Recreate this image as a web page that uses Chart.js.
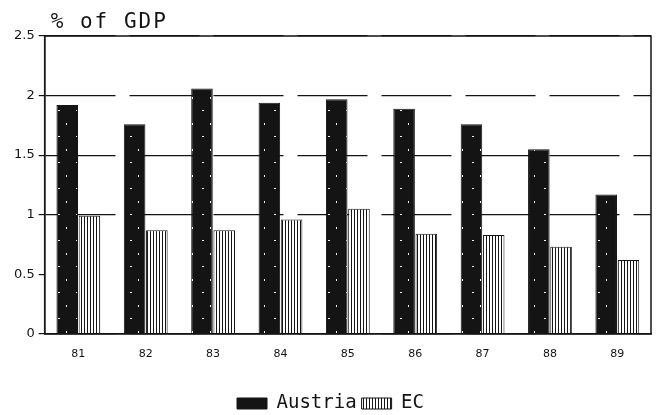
<!DOCTYPE html>
<html>
<head>
<meta charset="utf-8">
<script src="https://cdn.jsdelivr.net/npm/chart.js@4/dist/chart.umd.min.js"></script>
<style>
    html, body { margin: 0; padding: 0; background: #fff; }
    #wrap { width: 656px; height: 415px; }
</style>
</head>
<body>
<div id="wrap"><canvas id="gdpChart" width="656" height="415"></canvas></div>
<script>
const years = ["81", "82", "83", "84", "85", "86", "87", "88", "89"];
const austriaValues = [1.92, 1.76, 2.06, 1.94, 1.97, 1.89, 1.76, 1.55, 1.17];
const ecValues = [0.99, 0.87, 0.87, 0.96, 1.05, 0.84, 0.83, 0.73, 0.62];
const yTicks = [0, 0.5, 1, 1.5, 2, 2.5];

const ink = "#141414";

function makeSpeckle() {
    const c = document.createElement("canvas");
    c.width = 18;
    c.height = 26;
    const g = c.getContext("2d");
    g.fillStyle = ink;
    g.fillRect(0, 0, c.width, c.height);
    g.fillStyle = "#fff";
    g.fillRect(4, 6, 2, 1);
    g.fillRect(12, 19, 1, 2);
    return g.createPattern(c, "repeat");
}

function makeHatch() {
    const c = document.createElement("canvas");
    c.width = 3;
    c.height = 8;
    const g = c.getContext("2d");
    g.fillStyle = "#fff";
    g.fillRect(0, 0, 3, 8);
    g.fillStyle = ink;
    g.fillRect(0, 0, 1, 8);
    return g.createPattern(c, "repeat");
}

// box round the plot and the "% of GDP" heading
const framePlugin = {
    id: "frame",
    afterDraw(chart) {
        const { ctx, chartArea } = chart;
        ctx.save();
        ctx.strokeStyle = ink;
        ctx.lineWidth = 1.5;
        ctx.strokeRect(chartArea.left, chartArea.top, chartArea.right - chartArea.left, chartArea.bottom - chartArea.top);
        ctx.fillStyle = ink;
        ctx.font = "21px 'DejaVu Sans Mono'";
        ctx.letterSpacing = "2px";
        ctx.textBaseline = "alphabetic";
        ctx.fillText("% of GDP", chartArea.left + 6, 28);
        ctx.restore();
    },
};

new Chart(document.getElementById("gdpChart"), {
    type: "bar",
    data: {
        labels: years,
        datasets: [
            {
                label: "Austria",
                data: austriaValues,
                backgroundColor: makeSpeckle(),
                borderColor: ink,
                borderWidth: 1,
                categoryPercentage: 0.66,
                barPercentage: 0.97,
            },
            {
                label: "EC",
                data: ecValues,
                backgroundColor: makeHatch(),
                borderColor: ink,
                borderWidth: 1,
                categoryPercentage: 0.66,
                barPercentage: 0.97,
            },
        ],
    },
    options: {
        responsive: false,
        animation: false,
        layout: { padding: { top: 36, right: 5, left: 10, bottom: -8 } },
        plugins: {
            tooltip: { enabled: false },
            legend: {
                position: "bottom",
                labels: {
                    color: ink,
                    font: { family: "'DejaVu Sans Mono'", size: 19 },
                    boxWidth: 30,
                    boxHeight: 11,
                    padding: 5,
                },
            },
        },
        scales: {
            x: {
                offset: true,
                grid: { display: false },
                border: { color: ink, width: 1.5 },
                ticks: { color: ink, font: { family: "'DejaVu Sans'", size: 11 }, padding: 6 },
                afterFit: (scale) => {
                    scale.height += 22;
                },
            },
            y: {
                min: 0,
                max: 2.5,
                afterBuildTicks: (scale) => {
                    scale.ticks = yTicks.map((v) => ({ value: v }));
                },
                grid: {
                    color: (ctx) => (ctx.tick && ctx.tick.value === 0.5 ? "rgba(0,0,0,0)" : ink),
                    lineWidth: 1.2,
                    tickLength: 6,
                    tickColor: ink,
                },
                border: { color: ink, width: 1.5, dash: [70, 14] },
                ticks: {
                    color: ink,
                    font: { family: "'DejaVu Sans'", size: 13 },
                    padding: 4,
                    callback: (v) => String(v),
                },
            },
        },
    },
    plugins: [framePlugin],
});
</script>
</body>
</html>
